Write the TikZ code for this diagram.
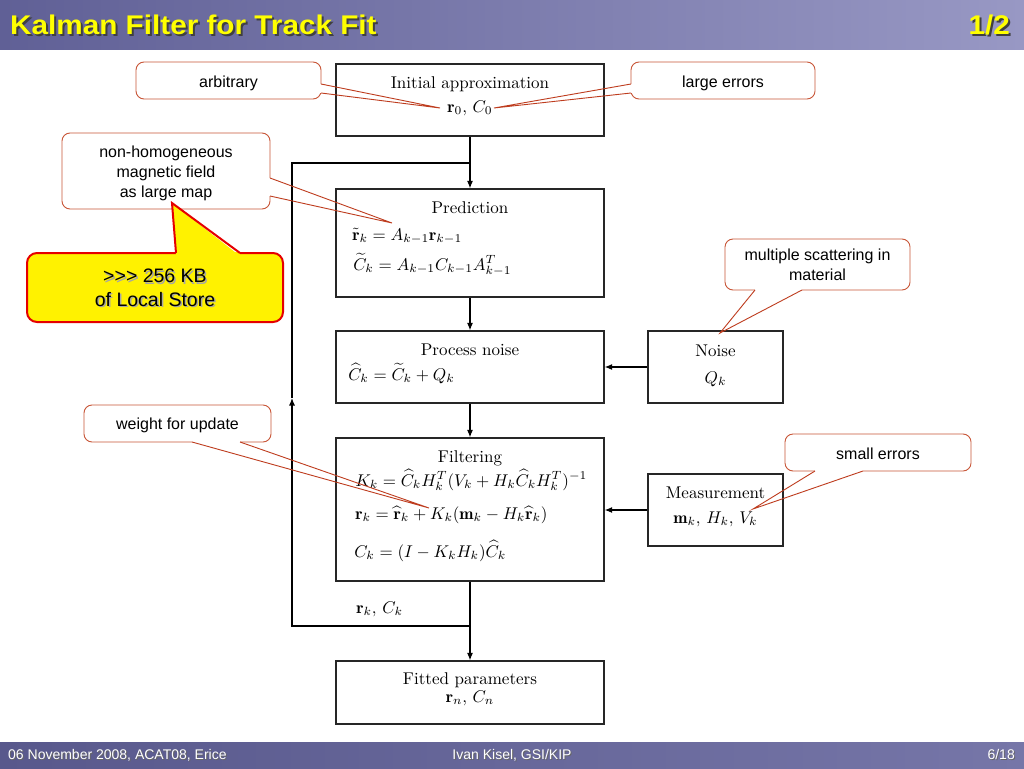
\documentclass[tikz,border=0pt]{standalone}
\usepackage{fontspec}
\newfontfamily\sansf{Liberation Sans}
\usetikzlibrary{arrows.meta,calc}
\definecolor{barL}{RGB}{96,96,150}
\definecolor{barR}{RGB}{152,152,196}
\definecolor{footL}{RGB}{88,88,140}
\definecolor{footR}{RGB}{118,118,168}
\definecolor{cborder}{RGB}{200,85,55}
\definecolor{cline}{RGB}{190,60,30}
\definecolor{ttl}{RGB}{255,255,0}
\begin{document}
\begin{tikzpicture}[x=1pt,y=-1pt,
  box/.style={draw=black!85, line width=1.2pt, inner sep=0pt},
  tx/.style={font=\fontsize{10}{12}\selectfont, scale=1.7, inner sep=0pt},
  arr/.style={line width=1.2pt, -{Latex[length=7.5pt,width=6pt]}},
  ln/.style={line width=1.2pt},
  call/.style={draw=cborder, fill=white, rounded corners=8pt, line width=0.9pt, inner sep=0pt},
  ctx/.style={font=\sansf\fontsize{16}{20}\selectfont, inner sep=0pt, anchor=base},
  ptr/.style={draw=cline, line width=0.9pt},
  hide/.style={draw=white, line width=2pt},
  ttext/.style={font=\sansf\bfseries\fontsize{27}{30}\selectfont, xscale=1.1, inner sep=0pt},
  ftext/.style={font=\sansf\fontsize{14}{16}\selectfont, inner sep=0pt},
]
\useasboundingbox (0,0) rectangle (1024,768);
\fill[white] (0,0) rectangle (1024,768);
% bars
\shade[left color=barL,right color=barR] (0,0) rectangle (1024,50);
\shade[left color=footL,right color=footR] (0,742) rectangle (1024,768);
% title
\node[ttext, anchor=base west, text=black!75] (titlesh) at (12,37) {Kalman Filter for Track Fit};
\node[ttext, anchor=base west, text=ttl] (title) at (10,35) {Kalman Filter for Track Fit};
\node[ttext, anchor=base east, text=black!75] (pagesh) at (1012,37) {1/2};
\node[ttext, anchor=base east, text=ttl] (page) at (1010,35) {1/2};
% footer
\node[ftext, anchor=base west, text=black!60] (f1s) at (9,760) {06 November 2008, ACAT08, Erice};
\node[ftext, anchor=base west, text=white] (f1) at (8,759) {06 November 2008, ACAT08, Erice};
\node[ftext, anchor=base, text=black!60] (f2s) at (513,760) {Ivan Kisel, GSI/KIP};
\node[ftext, anchor=base, text=white] (f2) at (512,759) {Ivan Kisel, GSI/KIP};
\node[ftext, anchor=base east, text=black!60] (f3s) at (1016,760) {6/18};
\node[ftext, anchor=base east, text=white] (f3) at (1015,759) {6/18};

% ---------- diagram boxes ----------
\node[box, minimum width=268pt, minimum height=72pt] (init) at (470,100) {};
\node[box, minimum width=268pt, minimum height=108pt] (pred) at (470,243) {};
\node[box, minimum width=268pt, minimum height=72pt] (proc) at (470,367) {};
\node[box, minimum width=268pt, minimum height=143pt] (filt) at (470,509.5) {};
\node[box, minimum width=268pt, minimum height=63pt] (fit) at (470,692.5) {};
\node[box, minimum width=135pt, minimum height=72pt] (noise) at (715.5,367) {};
\node[box, minimum width=135pt, minimum height=72pt] (meas) at (715.5,510) {};

% texts
\node[tx, anchor=base] (t1) at (470,88) {Initial approximation};
\node[tx, anchor=base] (t2) at (470,112) {$\mathbf{r}_0,\, C_0$};
\node[tx, anchor=base] (t3) at (470,213) {Prediction};
\node[tx, anchor=base west] (t4) at (352,240) {$\tilde{\mathbf{r}}_k = A_{k-1}\mathbf{r}_{k-1}$};
\node[tx, anchor=base west] (t5) at (353,270) {$\widetilde{C}_k = A_{k-1}C_{k-1}A_{k-1}^T$};
\node[tx, anchor=base] (t6) at (470,355) {Process noise};
\node[tx, anchor=base west] (t7) at (348,380) {$\widehat{C}_k = \widetilde{C}_k + Q_k$};
\node[tx, anchor=base] (t8) at (470,462) {Filtering};
\node[tx, anchor=base west] (t9) at (355,486) {$K_k = \widehat{C}_k H_k^T (V_k + H_k \widehat{C}_k H_k^T)^{-1}$};
\node[tx, anchor=base west] (t10) at (355,519) {$\mathbf{r}_k = \widehat{\mathbf{r}}_k + K_k(\mathbf{m}_k - H_k\widehat{\mathbf{r}}_k)$};
\node[tx, anchor=base west] (t11) at (354,557) {$C_k = (I - K_k H_k)\widehat{C}_k$};
\node[tx, anchor=base] (t12) at (470,684) {Fitted parameters};
\node[tx, anchor=base] (t13) at (470,702) {$\mathbf{r}_n,\, C_n$};
\node[tx, anchor=base] (t14) at (715.5,356) {Noise};
\node[tx, anchor=base] (t15) at (715.5,383) {$Q_k$};
\node[tx, anchor=base] (t16) at (715.5,498) {Measurement};
\node[tx, anchor=base] (t17) at (715.5,523) {$\mathbf{m}_k,\, H_k,\, V_k$};
\node[tx, anchor=base west] (t18) at (356,613) {$\mathbf{r}_k,\, C_k$};

% connectors
\coordinate (j1) at (470,163);
\coordinate (j2) at (470,626);
\coordinate (lb) at (292,626);
\coordinate (lm) at (292,398);
\coordinate (lt) at (292,163);
\draw[arr] (init.south) -- (pred.north);
\draw[arr] (pred.south) -- (proc.north);
\draw[arr] (proc.south) -- (filt.north);
\draw[arr] (filt.south) -- (fit.north);
\draw[arr] (noise.west) -- (noise.west -| proc.east);
\draw[arr] (meas.west) -- (meas.west -| filt.east);
\draw[arr] (j2) -- (lb) -- (lm);
\draw[ln, line join=miter] (lm) -- (lt) -- (j1);

% ---------- callouts ----------
% arbitrary
\node[call, minimum width=185pt, minimum height=37pt] (arb) at (228.5,80.5) {};
\node[ctx] (arbtx) at (228.5,87) {arbitrary};
\coordinate (arbA) at (321,84); \coordinate (arbB) at (321,93); \coordinate (arbT) at (440,108);
\draw[hide] (arbA) -- (arbB);
\draw[ptr] (arbA) -- (arbT) -- (arbB);
% large errors
\node[call, minimum width=184pt, minimum height=37pt] (lrg) at (723,80.5) {};
\node[ctx] (lrgtx) at (723,87) {large errors};
\coordinate (lrgA) at (631,84); \coordinate (lrgB) at (631,93); \coordinate (lrgT) at (494,108);
\draw[hide] (lrgA) -- (lrgB);
\draw[ptr] (lrgA) -- (lrgT) -- (lrgB);
% non-homogeneous
\node[call, minimum width=208pt, minimum height=76pt] (mag) at (166,171) {};
\node[ctx] (magtx1) at (166,157) {non-homogeneous};
\node[ctx] (magtx2) at (166,177) {magnetic field};
\node[ctx] (magtx3) at (166,197) {as large map};
\coordinate (magA) at (270,178); \coordinate (magB) at (270,196); \coordinate (magT) at (392,223);
\draw[hide] (magA) -- (magB);
\draw[ptr] (magA) -- (magT) -- (magB);
% multiple scattering
\node[call, minimum width=185pt, minimum height=51pt] (mul) at (817.5,264.5) {};
\node[ctx] (multx1) at (817.5,260) {multiple scattering in};
\node[ctx] (multx2) at (817.5,280) {material};
\coordinate (mulA) at (755,290); \coordinate (mulB) at (802,290); \coordinate (mulT) at (720,333);
\draw[hide] (mulA) -- (mulB);
\draw[ptr] (mulA) -- (mulT) -- (mulB);
% small errors
\node[call, minimum width=186pt, minimum height=37pt] (sml) at (878,452.5) {};
\node[ctx] (smltx) at (878,459) {small errors};
\coordinate (smlA) at (815,471); \coordinate (smlB) at (863,471); \coordinate (smlT) at (753,509);
\draw[hide] (smlA) -- (smlB);
\draw[ptr] (smlA) -- (smlT) -- (smlB);
% weight for update
\node[call, minimum width=187pt, minimum height=37pt] (wgt) at (177.5,423.5) {};
\node[ctx] (wgttx) at (177.5,429.5) {weight for update};
\coordinate (wgtA) at (192,442); \coordinate (wgtB) at (240,442); \coordinate (wgtT) at (429,508);
\draw[hide] (wgtA) -- (wgtB);
\draw[ptr] (wgtA) -- (wgtT) -- (wgtB);

% yellow callout
\node[draw=red!90!black, fill=yellow, rounded corners=10pt, line width=2pt,
  minimum width=256pt, minimum height=69pt, inner sep=0pt] (ls) at (155,287.5) {};
\coordinate (lsA) at (176,253); \coordinate (lsB) at (240,253); \coordinate (lsT) at (172,203);
\fill[yellow] ($(lsA)+(0,3)$) -- (lsT) -- ($(lsB)+(0,3)$) -- cycle;
\draw[draw=yellow, line width=3pt] (lsA) -- (lsB);
\draw[draw=red!90!black, line width=2pt, line join=miter] (lsA) -- (lsT) -- (lsB);
\node[font=\sansf\fontsize{19.5}{23.5}\selectfont, align=center, text=black!35, inner sep=0pt] (lstxs) at (156.5,289.5) {>>> 256 KB\\of Local Store};
\node[font=\sansf\fontsize{19.5}{23.5}\selectfont, align=center, text=black, inner sep=0pt] (lstx) at (155,288) {>>> 256 KB\\of Local Store};
\end{tikzpicture}
\end{document}
